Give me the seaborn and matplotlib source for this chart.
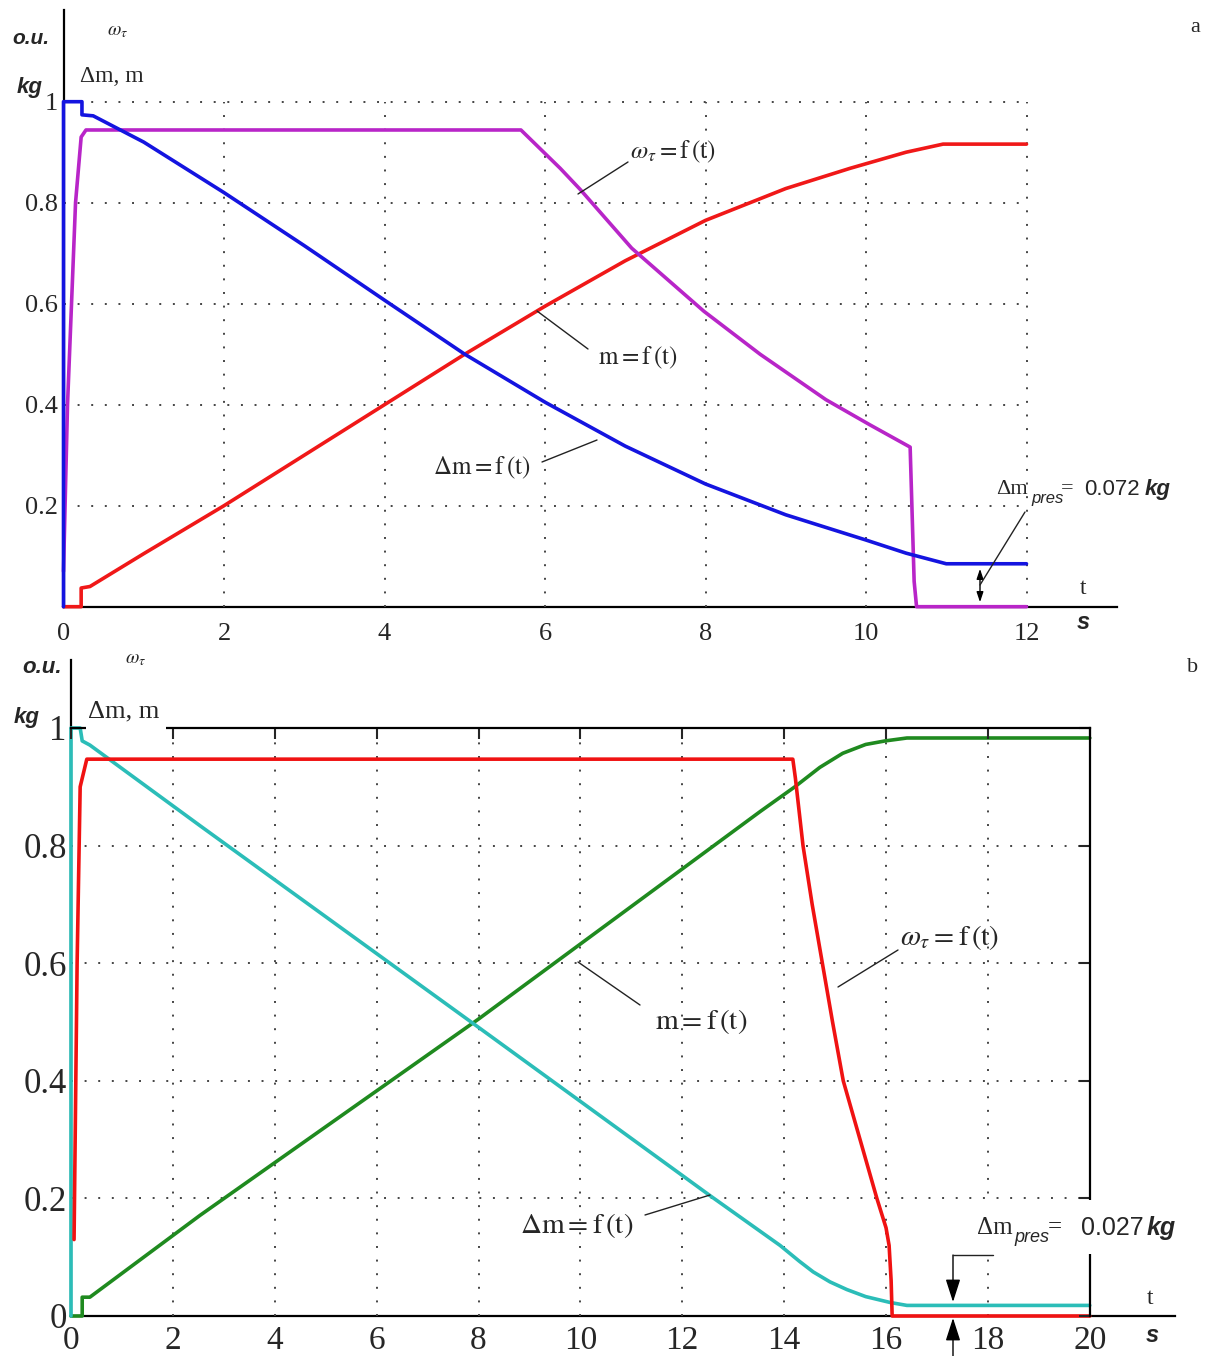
import matplotlib
matplotlib.use("Agg")
import matplotlib.pyplot as plt
import numpy as np
import pandas as pd
import seaborn as sns

# ---------------- data (panel a) ----------------
t_dm_a = [0, 0, 0.23, 0.23, 0.37, 1, 2, 3, 4, 5, 6, 7, 8, 9, 10, 10.5, 11, 12]
dm_a = [0, 1.0, 1.0, 0.974, 0.972, 0.92, 0.82, 0.715, 0.607, 0.50, 0.405, 0.318, 0.243, 0.182, 0.132, 0.106, 0.085, 0.085]

t_w_a = [0, 0.05, 0.15, 0.22, 0.28, 5.70, 6.19, 6.44, 7.08, 7.98, 8.68, 9.5, 10.05, 10.55, 10.6, 10.63, 12]
w_a = [0.07, 0.40, 0.80, 0.93, 0.944, 0.944, 0.868, 0.826, 0.71, 0.585, 0.50, 0.41, 0.36, 0.316, 0.05, 0, 0]

t_m_a = [0, 0.22, 0.22, 0.33, 1, 2, 3, 4, 5, 6, 7, 8, 9, 9.8, 10.5, 10.96, 12]
m_a = [0, 0, 0.037, 0.04, 0.105, 0.2, 0.3, 0.4, 0.5, 0.595, 0.685, 0.765, 0.828, 0.868, 0.9, 0.916, 0.916]

# ---------------- data (panel b) ----------------
t_dm_b = [0, 0, 0.18, 0.22, 0.37, 2.53, 8.03, 12.54, 13.92, 14.3, 14.57, 14.9, 15.23, 15.6, 16.08, 16.41, 20]
dm_b = [0, 1.0, 1.0, 0.978, 0.971, 0.834, 0.489, 0.205, 0.12, 0.093, 0.075, 0.058, 0.045, 0.033, 0.023, 0.018, 0.018]

t_w_b = [0.06, 0.12, 0.18, 0.31, 14.17, 14.22, 14.37, 14.55, 14.75, 14.95, 15.16, 15.49, 15.82, 16.0, 16.06, 16.1, 16.12, 20]
w_b = [0.13, 0.60, 0.90, 0.947, 0.947, 0.915, 0.80, 0.70, 0.60, 0.50, 0.40, 0.30, 0.20, 0.15, 0.12, 0.06, 0, 0]

t_m_b = [0, 0.22, 0.22, 0.37, 2.53, 8.0, 13.53, 14.21, 14.7, 15.15, 15.6, 15.98, 16.41, 20]
m_b = [0, 0, 0.032, 0.032, 0.171, 0.505, 0.858, 0.90, 0.933, 0.957, 0.972, 0.978, 0.983, 0.983]

xticks_a = [0, 2, 4, 6, 8, 10, 12]
yticks_a = [0.2, 0.4, 0.6, 0.8, 1.0]
yticklabels_a = ["0.2", "0.4", "0.6", "0.8", "1"]
xticks_b = [0, 2, 4, 6, 8, 10, 12, 14, 16, 18, 20]
yticks_b = [0, 0.2, 0.4, 0.6, 0.8, 1.0]
yticklabels_b = ["0", "0.2", "0.4", "0.6", "0.8", "1"]

# ---------------- style ----------------
sns.set_style("white")
plt.rcParams["font.family"] = ["Liberation Serif", "DejaVu Serif"]
plt.rcParams["mathtext.fontset"] = "stix"

W, H = 1211, 1356
fig = plt.figure(figsize=(W / 100, H / 100), dpi=100)


def px_axes(l, t, r, b):
    return fig.add_axes([l / W, 1 - b / H, (r - l) / W, (b - t) / H])


def ftext(x, y, s, **kw):
    kw.setdefault("ha", "center")
    kw.setdefault("va", "center")
    return fig.text(x / W, 1 - y / H, s, **kw)


def fline(x1, y1, x2, y2, lw=1.0):
    fig.add_artist(plt.Line2D([x1 / W, x2 / W], [1 - y1 / H, 1 - y2 / H],
                              transform=fig.transFigure, color="#222222", lw=lw))


GRID = dict(color="#444444", linestyle=(0, (1, 6)), lw=1.4)
LW = 2.6

# ================= panel a =================
XA0, XAU, YA0, YAU = 63.5, 80.25, 606.7, 505.0
ax = px_axes(XA0, 10, 1116.7, YA0)
ax.set_xlim(0, (1116.7 - XA0) / XAU)
ax.set_ylim(0, (YA0 - 10) / YAU)

ax.vlines(xticks_a[1:], 0, 1, **GRID)
ax.hlines(yticks_a, 0, xticks_a[-1], **GRID)

sns.lineplot(x=t_m_a, y=m_a, ax=ax, color="#f01818", lw=LW, sort=False, estimator=None)
sns.lineplot(x=t_w_a, y=w_a, ax=ax, color="#b825c8", lw=LW, sort=False, estimator=None)
sns.lineplot(x=t_dm_a, y=dm_a, ax=ax, color="#1414e0", lw=LW, sort=False, estimator=None)
for ln in ax.get_lines():
    ln.set_clip_on(False)

for side in ["top", "right"]:
    ax.spines[side].set_visible(False)
for side in ["left", "bottom"]:
    ax.spines[side].set_color("black")
    ax.spines[side].set_linewidth(1.6)
    ax.spines[side].set_zorder(0.5)
ax.set_xticks(xticks_a)
ax.set_xticklabels([str(v) for v in xticks_a])
ax.set_yticks(yticks_a)
ax.set_yticklabels(yticklabels_a)
ax.tick_params(axis="x", direction="in", length=7, width=1.5, labelsize=19, pad=12)
ax.tick_params(axis="y", direction="in", length=6, width=1.5, labelsize=19, pad=4)
ax.set_xlabel("")
ax.set_ylabel("")

ax.annotate("", xy=(980, H - 566), xytext=(980, H - 605), xycoords="figure pixels",
            textcoords="figure pixels",
            arrowprops=dict(arrowstyle="<|-|>,head_length=0.6,head_width=0.2", color="black", lw=1.0))

# ================= panel b =================
XB0, XBU, YB0, YBU = 71.0, 50.94, 1316.0, 588.0
bx = px_axes(XB0, 660, 1175, YB0)
bx.set_xlim(0, (1175 - XB0) / XBU)
bx.set_ylim(0, (YB0 - 660) / YBU)

bx.vlines(xticks_b[1:-1], 0, 1, **GRID)
bx.hlines(yticks_b[1:-1], 0, xticks_b[-1], **GRID)

sns.lineplot(x=t_m_b, y=m_b, ax=bx, color="#1f8a1f", lw=LW, sort=False, estimator=None)
sns.lineplot(x=t_dm_b, y=dm_b, ax=bx, color="#2bbdb8", lw=LW, sort=False, estimator=None)
sns.lineplot(x=t_w_b, y=w_b, ax=bx, color="#f01212", lw=LW, sort=False, estimator=None)
for ln in bx.get_lines():
    ln.set_clip_on(False)

for side in ["top", "right"]:
    bx.spines[side].set_visible(False)
for side in ["left", "bottom"]:
    bx.spines[side].set_color("black")
    bx.spines[side].set_linewidth(1.6)
    bx.spines[side].set_zorder(0.5)
bx.set_xticks(xticks_b)
bx.set_xticklabels([str(v) for v in xticks_b])
bx.set_yticks(yticks_b)
bx.set_yticklabels(yticklabels_b)
bx.tick_params(axis="x", direction="in", length=8, width=1.5, labelsize=24, pad=7)
bx.tick_params(axis="y", direction="in", length=7, width=1.5, labelsize=25, pad=3)
bx.set_xlabel("")
bx.set_ylabel("")

# frame box of panel b (top and right, with inward ticks)
fx = px_axes(XB0, YB0 - YBU, XB0 + 20 * XBU, YB0)
fx.set_xlim(0, 20)
fx.set_ylim(0, 1)
fx.patch.set_visible(False)
for side in ["left", "bottom"]:
    fx.spines[side].set_visible(False)
for side in ["top", "right"]:
    fx.spines[side].set_color("black")
    fx.spines[side].set_linewidth(1.6)
fx.set_xticks(xticks_b)
fx.set_yticks(yticks_b)
fx.tick_params(bottom=False, left=False, top=True, right=True, labelbottom=False,
               labelleft=False, direction="in", length=8, width=1.5)

# ================= texts =================
SANS = ["Liberation Sans", "DejaVu Sans"]
SERIF = ["Liberation Serif", "DejaVu Serif"]

# panel a
ftext(31, 38, "o.u.", family=SANS, style="italic", weight="bold", fontsize=15)
ftext(30, 87, "kg", family=SANS, style="italic", weight="bold", fontsize=16)
ftext(118, 32, r"$\omega_\tau$", fontsize=14)
ftext(80, 76, "Δm, m", family=SERIF, fontsize=17, ha="left")
ftext(1195, 27, "a", family=SERIF, fontsize=16)
ftext(630, 152, r"$\omega_\tau = \mathrm{f}\,\left(\mathrm{t}\right)$", fontsize=18, ha="left")
ftext(598, 358, r"$\mathrm{m} = \mathrm{f}\,\left(\mathrm{t}\right)$", fontsize=18, ha="left")
ftext(433, 468, r"$\Delta\mathrm{m} = \mathrm{f}\,\left(\mathrm{t}\right)$", fontsize=18, ha="left")
fline(628, 162, 578, 194)
fline(588, 349, 537, 311)
fline(542, 462, 597, 440)
ftext(996, 490, "Δm", family=SERIF, fontsize=16, ha="left")
ftext(1031, 498, "pres", family=SANS, style="italic", fontsize=12, ha="left")
ftext(1061, 489, "=", family=SERIF, fontsize=16, ha="left")
ftext(1084, 490, "0.072", family=SANS, fontsize=16, ha="left")
ftext(1145, 490, "kg", family=SANS, style="italic", weight="bold", fontsize=16, ha="left")
fline(1025, 512, 980, 585)
ftext(1083, 588, "t", family=SERIF, fontsize=17)
ftext(1083, 623, "s", family=SANS, style="italic", weight="bold", fontsize=17)

# panel b
ftext(42, 668, "o.u.", family=SANS, style="italic", weight="bold", fontsize=16)
ftext(27, 718, "kg", family=SANS, style="italic", weight="bold", fontsize=16)
ftext(136, 660, r"$\omega_\tau$", fontsize=14)
fig.add_artist(plt.Rectangle((86 / W, 1 - 733 / H), 80 / W, 43 / H, transform=fig.transFigure,
                             facecolor="white", edgecolor="none", zorder=2.5))
ftext(88, 711, "Δm, m", family=SERIF, fontsize=19, ha="left")
ftext(1193, 668, "b", family=SERIF, fontsize=16)
ftext(900, 937, r"$\omega_\tau = \mathrm{f}\,\left(\mathrm{t}\right)$", fontsize=21, ha="left")
ftext(655, 1022, r"$\mathrm{m} = \mathrm{f}\,\left(\mathrm{t}\right)$", fontsize=21, ha="left")
ftext(520, 1225, r"$\Delta\mathrm{m} = \mathrm{f}\,\left(\mathrm{t}\right)$", fontsize=21, ha="left")
fline(898, 950, 838, 987)
fline(640, 1005, 578, 962)
fline(645, 1215, 710, 1195)
fig.add_artist(plt.Rectangle((970 / W, 1 - 1254 / H), 210 / W, 54 / H, transform=fig.transFigure,
                             facecolor="white", edgecolor="none", zorder=2.5))
ftext(977, 1228, "Δm", family=SERIF, fontsize=18, ha="left")
ftext(1014, 1238, "pres", family=SANS, style="italic", fontsize=13, ha="left")
ftext(1048, 1227, "=", family=SERIF, fontsize=18, ha="left")
ftext(1081, 1228, "0.027", family=SANS, fontsize=18, ha="left")
ftext(1147, 1228, "kg", family=SANS, style="italic", weight="bold", fontsize=18, ha="left")
fline(993, 1255, 953, 1255)
bx.annotate("", xy=(953, H - 1302), xytext=(953, H - 1255), xycoords="figure pixels",
            textcoords="figure pixels", annotation_clip=False,
            arrowprops=dict(arrowstyle="-|>,head_length=1.4,head_width=0.45", color="black",
                            lw=1.0, shrinkA=0, shrinkB=0))
bx.annotate("", xy=(953, H - 1318), xytext=(953, H - 1360), xycoords="figure pixels",
            textcoords="figure pixels", annotation_clip=False,
            arrowprops=dict(arrowstyle="-|>,head_length=1.4,head_width=0.45", color="black",
                            lw=1.0, shrinkA=0, shrinkB=0))
ftext(1150, 1298, "t", family=SERIF, fontsize=17)
ftext(1152, 1336, "s", family=SANS, style="italic", weight="bold", fontsize=17)

fig.savefig("out.png", dpi=100)
